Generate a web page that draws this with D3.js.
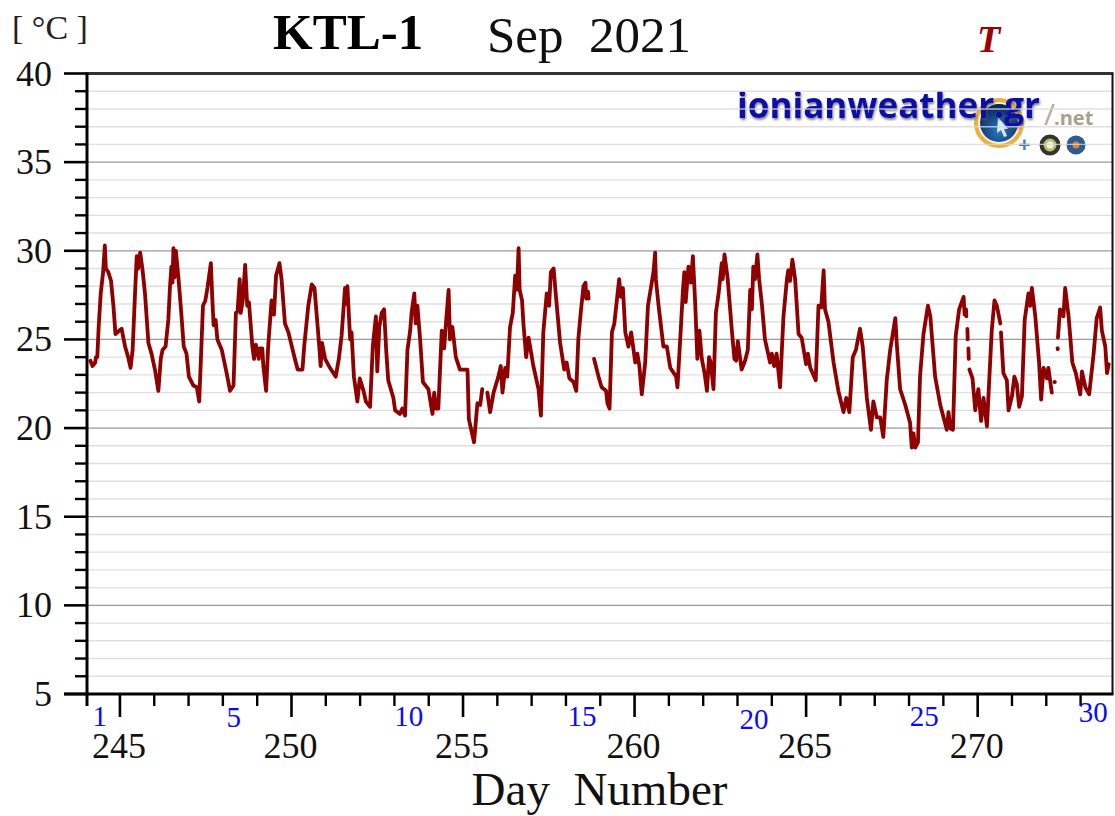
<!DOCTYPE html>
<html><head><meta charset="utf-8">
<script src="https://cdn.jsdelivr.net/npm/d3@7/dist/d3.min.js"></script>
<style>html,body{margin:0;padding:0;background:#fff;overflow:hidden}svg{display:block}text{font-family:"Liberation Serif",serif}</style>
</head><body><svg id="c" width="1115" height="816"></svg>
<script>
const title="KTL-1", period="Sep  2021", unit="[ °C ]", seriesName="T", xLabel="Day  Number";
const yTicks=[5,10,15,20,25,30,35,40];
const xTicks=[245,250,255,260,265,270];
const dayLabels=[1,5,10,15,20,25,30];
const dayLabelAt=[244.41,248.32,253.42,258.47,263.48,268.44,273.37];
const days=[244.14,244.2,244.28,244.3,244.34,244.38,244.44,244.51,244.56,244.59,244.66,244.74,244.81,244.87,244.98,245.05,245.15,245.24,245.31,245.37,245.44,245.49,245.53,245.59,245.66,245.73,245.83,245.92,246.02,246.12,246.19,246.24,246.33,246.41,246.46,246.5,246.53,246.56,246.59,246.63,246.7,246.78,246.86,246.94,247.01,247.14,247.24,247.31,247.37,247.42,247.49,247.55,247.65,247.69,247.73,247.79,247.84,247.97,248.11,248.21,248.31,248.38,248.43,248.49,248.52,248.58,248.65,248.71,248.76,248.86,248.91,248.96,249.05,249.08,249.15,249.18,249.26,249.32,249.42,249.49,249.55,249.65,249.71,249.81,249.91,250.1,250.18,250.32,250.37,250.49,250.59,250.67,250.73,250.81,250.85,250.89,250.98,251.12,251.29,251.38,251.46,251.56,251.59,251.63,251.71,251.75,251.82,251.92,251.99,252.1,252.17,252.29,252.37,252.46,252.5,252.56,252.63,252.7,252.76,252.82,252.97,253.02,253.16,253.23,253.31,253.38,253.46,253.5,253.58,253.62,253.67,253.75,253.83,253.99,254.11,254.16,254.21,254.28,254.38,254.45,254.51,254.58,254.62,254.69,254.79,254.91,255.13,255.17,255.32,255.42,255.5,255.56,255.63,255.71,255.79,255.89,256.03,256.1,256.15,256.23,256.29,256.37,256.45,256.52,256.57,256.62,256.65,256.72,256.76,256.84,256.91,257.05,257.2,257.27,257.34,257.44,257.51,257.56,257.64,257.71,257.83,257.95,258.02,258.1,258.22,258.3,258.36,258.43,258.51,258.57,258.59,258.64,258.66,258.74,258.82,258.95,259.04,259.17,259.21,259.27,259.34,259.41,259.55,259.6,259.66,259.73,259.82,259.9,260.02,260.08,260.14,260.21,260.31,260.39,260.5,260.55,260.6,260.62,260.7,260.84,260.94,261.04,261.21,261.25,261.33,261.41,261.45,261.49,261.57,261.64,261.7,261.77,261.83,261.89,261.96,262.04,262.11,262.17,262.22,262.3,262.37,262.45,262.54,262.57,262.62,262.71,262.84,262.91,262.96,263.01,263.12,263.22,263.3,263.37,263.42,263.46,263.51,263.58,263.63,263.71,263.8,263.95,264,264.07,264.14,264.24,264.34,264.44,264.48,264.53,264.6,264.68,264.78,264.87,265,265.05,265.12,265.28,265.36,265.44,265.51,265.55,265.65,265.8,265.94,266.09,266.17,266.26,266.36,266.45,266.57,266.65,266.77,266.89,266.96,267.06,267.16,267.25,267.35,267.45,267.6,267.64,267.74,267.89,268.03,268.08,268.13,268.18,268.26,268.32,268.42,268.55,268.62,268.76,268.91,269.1,269.15,269.2,269.28,269.36,269.46,269.59,269.62,269.66,269.67,269.685,269.7,269.71,269.72,269.73,269.74,269.75,269.76,269.85,269.93,270.02,270.1,270.17,270.27,270.41,270.49,270.56,270.66,270.67,270.68,270.75,270.85,270.9,271,271.07,271.14,271.21,271.29,271.37,271.48,271.53,271.58,271.68,271.79,271.85,271.92,272.02,272.06,272.16,272.2,272.24,272.25,272.29,272.33,272.335,272.337,272.34,272.4,272.5,272.55,272.65,272.76,272.86,272.99,273.04,273.14,273.25,273.38,273.47,273.57,273.62,273.72,273.77,273.82];
const temps=[23.8,23.5,23.7,24,24,25.7,27.6,28.8,30.3,29,28.8,28.3,26.9,25.3,25.5,25.6,24.6,24,23.4,24.4,27.6,29.7,29,29.9,28.9,27.6,24.8,24.2,23.3,22.1,23.9,24.4,24.6,26.1,28,29.1,28.2,30.15,28.5,30,28.6,26.7,24.6,24.2,22.9,22.4,22.3,21.5,24.4,26.9,27.2,27.9,29.3,27.4,25.8,26.1,25,24.4,23.1,22.1,22.4,26.5,26.6,28.4,26.5,27.2,29.2,26.9,27.1,24.6,23.9,24.7,23.9,24.5,24.5,23.5,22.1,24.6,27.2,26.4,28.6,29.3,28.4,25.9,25.4,23.9,23.3,23.3,24.6,26.9,28.1,27.9,26.5,24.6,23.5,24.8,23.9,23.4,22.9,23.9,25.2,27.9,27,28,25,25.4,22.9,21.5,22.8,22.1,21.5,21.2,24.6,26.3,23.2,25.7,26.5,26.7,24.4,22.7,21.7,21,20.8,21.1,20.7,24.4,25.5,26.5,27.6,25.9,26.9,25,22.6,22.2,20.8,22,21.1,21.1,25.5,24.5,26.1,27.8,25,25.7,24,23.3,23.3,20.5,19.2,21.4,21.3,22.2,null,22,20.9,22,22.9,23.5,22,23.4,22.9,25.7,26.5,28.6,27.8,30.15,27.8,27.2,25.9,24,25.1,23.5,22.2,20.7,25.4,27.6,26.9,28.8,29,27.4,24.8,23.3,23.7,22.8,22.6,22.1,25,26.5,28,28.2,27.3,27.7,27.3,null,23.9,22.9,22.3,22.1,21.4,21.1,25.4,25.9,28.4,27.4,27.9,25.4,24.6,25.4,23.7,24.2,23.5,21.9,23.7,26.9,28.2,28.8,29.9,28.4,26.9,24.6,24.6,23.4,22.9,22.3,25,27.8,28.8,27.1,29.1,28.2,29.7,26.9,23.9,25.5,23.9,23.1,22.1,24,23.7,22.2,26.5,27.6,29.3,28.4,29.8,28.5,25.4,23.9,23.8,24.9,23.3,23.8,24.4,27.8,26.7,29.1,28.4,29.8,28.4,27,25,23.7,24.2,23.5,24.2,22.3,26.3,28.4,28.9,28.3,29.5,28.4,25.3,25.1,23.6,24.2,23.4,22.7,26.9,26.8,28.9,26.7,26,23.7,22.1,20.9,21.7,20.9,24,24.4,25.6,24.6,21.7,19.9,21.5,20.6,20.6,19.5,22.7,24.4,26.2,24.8,22.2,21.3,20.3,18.9,19.7,18.9,19.2,22.9,25.3,26.9,26.3,22.9,21.3,19.9,20.9,20,19.9,25.2,26.7,27.4,26.4,26.7,26.3,null,25.6,25,null,24.5,23.9,null,23.3,22.8,21,22.2,20.4,21.7,20.1,25.5,27.2,26.9,25.9,null,25.4,23.1,22.7,21,21.8,22.9,22.5,21.2,21.8,26.1,27.6,26.9,27.9,26.3,23.7,21.6,23.4,22.8,23.4,22,null,22.6,22.6,null,24.5,24.45,null,25.1,26.7,26.3,27.9,26.3,23.7,23.1,21.9,23.2,22.3,21.9,24.2,26.2,26.8,25.5,24.6,23.1,23.6];

const L=87,R=1112.5,T=73.5,B=694;
const x=d3.scaleLinear().domain([244.04,273.93]).range([L,R]);
const y=d3.scaleLinear().domain([5,40]).range([B,T]);
const svg=d3.select("#c");
const defs=svg.append("defs");
const shadow=defs.append("filter").attr("id","shadow").attr("x","-5%").attr("y","-20%").attr("width","110%").attr("height","150%");
shadow.append("feDropShadow").attr("dx",1).attr("dy",2).attr("stdDeviation",1.2).attr("flood-color","#555").attr("flood-opacity",.7);
const rg=defs.append("radialGradient").attr("id","globe").attr("cx","50%").attr("cy","70%").attr("r","70%");
rg.append("stop").attr("offset","0%").attr("stop-color","#2a78c8");
rg.append("stop").attr("offset","100%").attr("stop-color","#06204f");

const minorY=d3.range(5,41).filter(v=>v%5!==0);
const minorX=d3.range(245,274).filter(v=>v%5!==0);
// logo
const logo=svg.append("g");
logo.append("circle").attr("cx",999).attr("cy",123).attr("r",23).attr("fill","#f7f2e2").attr("stroke","#eab040").attr("stroke-width",4);
logo.append("circle").attr("cx",999).attr("cy",123).attr("r",19).attr("fill","url(#globe)");
logo.append("path").attr("d","M998 117 l10 12 -4 0 3 7 -3 1 -3 -7 -4 3 z").attr("fill","#dfe8f5");
logo.append("text").attr("x",737).attr("y",118).attr("font-size",35).attr("font-weight",700).attr("fill","#0a0aa8").attr("filter","url(#shadow)")
 .style("font-family","'Open Sans'").attr("textLength",303).attr("lengthAdjust","spacingAndGlyphs").text("ionianweather.gr");
logo.append("text").attr("x",1044).attr("y",125).attr("font-size",30).attr("fill","#b5ab95").style("font-family","'Open Sans'").text("/");
logo.append("text").attr("x",1054).attr("y",125).attr("font-size",20).attr("font-weight",700).attr("fill","#a89f8c").style("font-family","'Open Sans'").text(".net");
logo.append("text").attr("x",1018).attr("y",152).attr("font-size",22).attr("font-weight",700).attr("fill","#4a7fb0").style("font-family","'Open Sans'").text("+");
logo.append("circle").attr("cx",1050).attr("cy",145).attr("r",8.5).attr("fill","#b9c26a").attr("stroke","#333").attr("stroke-width",4);
logo.append("circle").attr("cx",1050).attr("cy",145).attr("r",3.5).attr("fill","#f4f4e4");
logo.append("circle").attr("cx",1076).attr("cy",145).attr("r",9.5).attr("fill","#2c5d8f");
logo.append("circle").attr("cx",1076).attr("cy",145).attr("r",3.5).attr("fill","#e2803a");
// grid, drawn over the logo as in the reference
svg.append("g").selectAll("line").data(minorY).join("line")
 .attr("x1",L).attr("x2",R).attr("y1",d=>y(d)).attr("y2",d=>y(d)).attr("stroke","#d8d8d8").attr("stroke-width",1.4).attr("opacity",.8);
svg.append("g").selectAll("line").data(yTicks.filter(d=>d>5&&d<40)).join("line")
 .attr("x1",L).attr("x2",R).attr("y1",d=>y(d)).attr("y2",d=>y(d)).attr("stroke","#9a9a9a").attr("stroke-width",1.2);

// series
const line=d3.line().defined((d,i)=>temps[i]!==null).x((d,i)=>x(days[i])).y((d,i)=>y(temps[i]));
svg.append("path").attr("d",line(days)).attr("fill","none").attr("stroke","#8f0000").attr("stroke-width",3.8).attr("stroke-linejoin","round").attr("stroke-linecap","round");

// frame
svg.append("line").attr("x1",L).attr("x2",R+1).attr("y1",T).attr("y2",T).attr("stroke","#333").attr("stroke-width",3);
svg.append("line").attr("x1",R).attr("x2",R).attr("y1",T).attr("y2",B).attr("stroke","#111").attr("stroke-width",2);
svg.append("line").attr("x1",L).attr("x2",L).attr("y1",T-1).attr("y2",B+12).attr("stroke","#000").attr("stroke-width",3);
svg.append("line").attr("x1",64).attr("x2",R+1).attr("y1",B).attr("y2",B).attr("stroke","#000").attr("stroke-width",3);
// y ticks
svg.append("g").selectAll("line").data(minorY).join("line").attr("x1",75).attr("x2",L).attr("y1",d=>y(d)).attr("y2",d=>y(d)).attr("stroke","#000").attr("stroke-width",2.4);
svg.append("g").selectAll("line").data(yTicks).join("line").attr("x1",64).attr("x2",L).attr("y1",d=>y(d)).attr("y2",d=>y(d)).attr("stroke","#000").attr("stroke-width",2.6);
// x ticks
svg.append("g").selectAll("line").data(minorX).join("line").attr("x1",d=>x(d)).attr("x2",d=>x(d)).attr("y1",B).attr("y2",B+12).attr("stroke","#000").attr("stroke-width",2.4);
svg.append("g").selectAll("line").data(xTicks).join("line").attr("x1",d=>x(d)).attr("x2",d=>x(d)).attr("y1",B).attr("y2",B+23).attr("stroke","#000").attr("stroke-width",2.6);
// labels
svg.append("g").selectAll("text").data(yTicks).join("text").attr("x",52).attr("y",d=>y(d)+12).attr("text-anchor","end").attr("font-size",36).attr("fill","#111").text(d=>d);
svg.append("g").selectAll("text").data(xTicks).join("text").attr("x",d=>x(d)-1).attr("y",758).attr("text-anchor","middle").attr("font-size",36).attr("fill","#111").text(d=>d);
const dayNudge=d=>d===30?-4:d===20?3:d===5?1:0;
svg.append("g").selectAll("text").data(dayLabels).join("text").attr("x",(d,i)=>x(dayLabelAt[i])).attr("y",d=>726+dayNudge(d)).attr("text-anchor","middle").attr("font-size",29).attr("fill","#0a0aff").text(d=>d);
svg.append("text").attr("x",599.5).attr("y",805).attr("text-anchor","middle").attr("font-size",47).attr("fill","#111").style("white-space","pre").text(xLabel);
svg.append("text").attr("x",273).attr("y",49).attr("font-size",51).attr("font-weight",700).attr("fill","#000").text(title);
svg.append("text").attr("x",487).attr("y",52).attr("font-size",51).attr("fill","#111").style("white-space","pre").text(period);
svg.append("text").attr("x",12).attr("y",39).attr("font-size",34).attr("fill","#222").style("white-space","pre").text(unit);
svg.append("text").attr("x",977).attr("y",52).attr("font-size",38).attr("font-weight",700).attr("font-style","italic").attr("fill","#a00000").text(seriesName);
</script></body></html>
